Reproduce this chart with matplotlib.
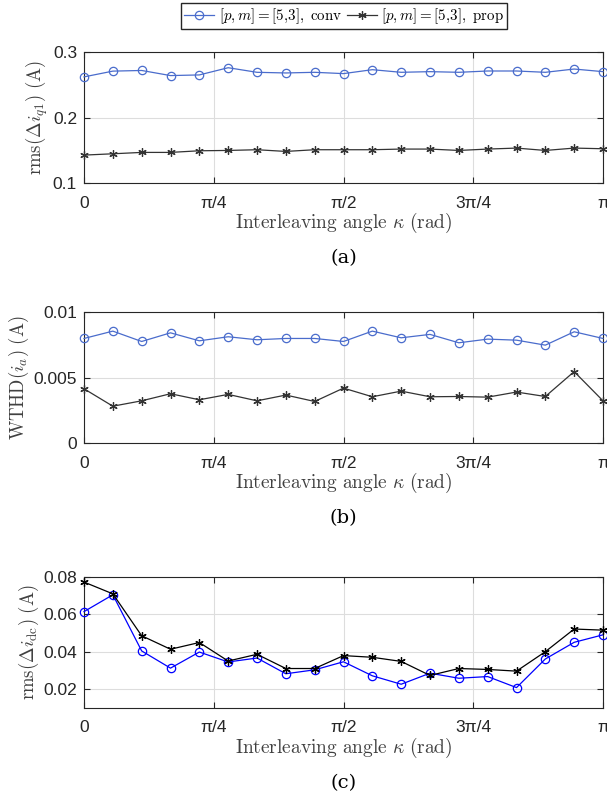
import numpy as np
import matplotlib
matplotlib.use("Agg")
import matplotlib.pyplot as plt

plt.rcParams['mathtext.fontset'] = 'cm'
plt.rcParams['font.family'] = ['Liberation Sans', 'DejaVu Sans']

# Data: interleaving angle kappa in 10-degree steps from 0 to pi
kappa = np.linspace(0, np.pi, 19)

rms_q1_conv = [0.262, 0.2708, 0.2718, 0.264, 0.265, 0.276, 0.269, 0.268, 0.269, 0.267,
               0.273, 0.269, 0.270, 0.269, 0.271, 0.271, 0.269, 0.274, 0.270]
rms_q1_prop = [0.1426, 0.1446, 0.1467, 0.1467, 0.1492, 0.1497, 0.1508, 0.1482, 0.1508, 0.1508,
               0.1508, 0.1518, 0.1518, 0.1497, 0.1518, 0.1533, 0.1497, 0.1533, 0.1523]

wthd_conv = [0.00798, 0.00854, 0.00775, 0.00841, 0.00780, 0.00811, 0.00788, 0.00798, 0.00798, 0.00775,
             0.00854, 0.00803, 0.00829, 0.00765, 0.00793, 0.00785, 0.00747, 0.00849, 0.00798]
wthd_prop = [0.00414, 0.00281, 0.00322, 0.00376, 0.00330, 0.00371, 0.00322, 0.00366, 0.00317, 0.00419,
             0.00353, 0.00396, 0.00353, 0.00355, 0.00350, 0.00389, 0.00355, 0.00545, 0.00322]

rms_dc_conv = [0.0615, 0.0705, 0.0405, 0.0313, 0.0399, 0.0346, 0.0367, 0.0283, 0.0304, 0.0347,
               0.0272, 0.0227, 0.0286, 0.0259, 0.0268, 0.0209, 0.0362, 0.0451, 0.0491]
rms_dc_prop = [0.0773, 0.0710, 0.0486, 0.0414, 0.0450, 0.0351, 0.0387, 0.0311, 0.0311, 0.0380,
               0.0371, 0.0349, 0.0274, 0.0311, 0.0306, 0.0297, 0.0401, 0.0522, 0.0516]

xticks = [0, np.pi/4, np.pi/2, 3*np.pi/4, np.pi]
xticklabels = ['0', 'π/4', 'π/2', '3π/4', 'π']

panels = [
    dict(conv=rms_q1_conv, prop=rms_q1_prop, ylim=(0.1, 0.3), yticks=[0.1, 0.2, 0.3],
         yticklabels=['0.1', '0.2', '0.3'], ylabel=r'$\mathrm{rms}(\Delta i_{q1})\ \mathrm{(A)}$',
         cap='(a)', cconv='#4a6ccc', cprop='#333333'),
    dict(conv=wthd_conv, prop=wthd_prop, ylim=(0, 0.01), yticks=[0, 0.005, 0.01],
         yticklabels=['0', '0.005', '0.01'], ylabel=r'$\mathrm{WTHD}(i_{a})\ \mathrm{(A)}$',
         cap='(b)', cconv='#4a6ccc', cprop='#333333'),
    dict(conv=rms_dc_conv, prop=rms_dc_prop, ylim=(0.01, 0.08), yticks=[0.02, 0.04, 0.06, 0.08],
         yticklabels=['0.02', '0.04', '0.06', '0.08'], ylabel=r'$\mathrm{rms}(\Delta i_{\mathrm{dc}})\ \mathrm{(A)}$',
         cap='(c)', cconv='#0000ff', cprop='#000000'),
]

fig = plt.figure(figsize=(6.07, 7.96), dpi=100)
left = 84 / 607
width = (603 - 84) / 607
tops = [52, 312, 577]
h = 131
asterisk = (6, 2, 0)
handles = None
for p, top in zip(panels, tops):
    ax = fig.add_axes([left, 1 - (top + h) / 796, width, h / 796])
    l1, = ax.plot(kappa, p['conv'], '-', color=p['cconv'], lw=0.9, marker='o', ms=6,
                  mfc='none', mec=p['cconv'], mew=0.9,
                  label=r'$[p,m]{=}\mathrm{[5{,}3],\ conv}$', clip_on=False, zorder=3)
    l2, = ax.plot(kappa, p['prop'], '-', color=p['cprop'], lw=0.9, marker=asterisk, ms=6,
                  mec=p['cprop'], mew=0.9,
                  label=r'$[p,m]{=}\mathrm{[5{,}3],\ prop}$', clip_on=False, zorder=3)
    if handles is None:
        handles = [l1, l2]
    ax.set_xlim(0, np.pi)
    ax.set_ylim(*p['ylim'])
    ax.set_xticks(xticks)
    ax.set_xticklabels(xticklabels, fontsize=12.5)
    ax.set_yticks(p['yticks'])
    ax.set_yticklabels(p['yticklabels'], fontsize=12.5)
    ax.grid(True, color='#dddddd', lw=0.8)
    ax.set_axisbelow(True)
    ax.tick_params(direction='in', top=True, right=True, length=4, width=0.8,
                   colors='#262626')
    ax.tick_params(axis='x', pad=9)
    ax.tick_params(axis='y', pad=5)
    for s in ax.spines.values():
        s.set_color('#262626')
        s.set_linewidth(0.8)
    ax.set_xlabel(r'$\mathrm{Interleaving\ angle}\ \kappa\ \mathrm{(rad)}$', fontsize=14,
                  color='#404040', labelpad=0)
    ax.set_ylabel(p['ylabel'], fontsize=13.5, color='#404040', labelpad=2)
    fig.text(left + width / 2, 1 - (top + 206) / 796, p['cap'], ha='center', va='center',
             fontsize=14, family='DejaVu Serif', math_fontfamily='cm')

fig.legend(handles=handles, loc='center', bbox_to_anchor=(344 / 607, 1 - 16 / 796), ncol=2,
           fontsize=10.8, frameon=True, fancybox=False, edgecolor='#262626', framealpha=1,
           handlelength=2.0, handletextpad=0.3, columnspacing=0.3, borderpad=0.2,
           borderaxespad=0)
fig.savefig('out.png', dpi=100)
